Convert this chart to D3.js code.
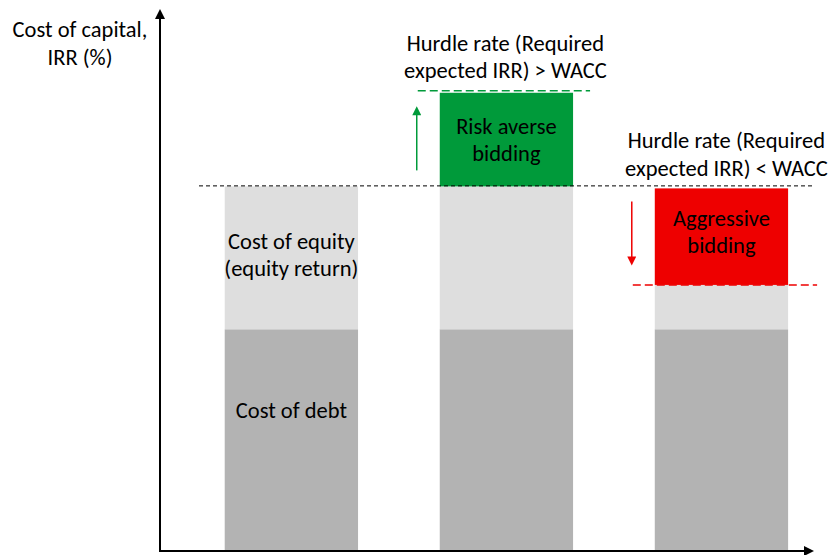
<!DOCTYPE html>
<html>
<head>
<meta charset="utf-8">
<script src="https://cdn.jsdelivr.net/npm/d3@7"></script>
<style>
  body { margin: 0; background: #fff; }
  svg text { font-family: Carlito, Lato, "Liberation Sans", sans-serif; fill: #000; }
</style>
</head>
<body>
<svg class="wacc" width="829" height="555"></svg>
<script>
// conceptual chart: values in %
const categories = ['Base', 'Risk averse', 'Aggressive'];
const costOfDebt = [4.5, 4.5, 4.5];
const wacc = [7.4, 7.4, 7.4];
const hurdleRate = [null, 9.3, 5.4];
const yMax = 11;

const yTitle = ['Cost of capital,', 'IRR (%)'];
const baseLabels = [['Cost of equity', '(equity return)'], ['Cost of debt']];
const hurdleLabels = [null, ['Hurdle rate (Required', 'expected IRR) > WACC'], ['Hurdle rate (Required', 'expected IRR) < WACC']];
const biddingLabels = [null, ['Risk averse', 'bidding'], ['Aggressive', 'bidding']];

const svg = d3.select('svg.wacc');
const width = 829;
const height = 555;
const x0 = 160, x1 = 818, yBottom = 551, yTop = 9;
const fontSize = 22.5;

const green = '#009A3A';
const red = '#EE0000';
const lightGrey = '#DEDEDE';
const darkGrey = '#B3B3B3';

const xScale = d3.scaleBand()
    .domain(categories)
    .range([x0, x1])
    .paddingInner(0.38)
    .paddingOuter(0.22)
    .align(0.684);

const yScale = d3.scaleLinear()
    .domain([0, yMax])
    .range([yBottom, yTop]);

const defs = svg.append('defs');
const marker = (id, color, w, h) => {
    defs.append('marker')
        .attr('id', id)
        .attr('viewBox', '0 0 10 10')
        .attr('refX', 5).attr('refY', 5)
        .attr('markerWidth', w).attr('markerHeight', h)
        .attr('markerUnits', 'userSpaceOnUse')
        .attr('orient', 'auto')
      .append('path')
        .attr('d', 'M0,0 L10,5 L0,10 Z')
        .attr('fill', color);
};
marker('axisHead', '#000', 11, 10);
marker('greenHead', green, 10, 9);
marker('redHead', red, 10, 9);

// build stacked segments from the arrays
const segments = [];
categories.forEach((c, i) => {
    segments.push({ cat: c, lo: 0, hi: costOfDebt[i], fill: darkGrey });
    if (hurdleRate[i] !== null && hurdleRate[i] < wacc[i]) {
        segments.push({ cat: c, lo: costOfDebt[i], hi: hurdleRate[i], fill: lightGrey });
        segments.push({ cat: c, lo: hurdleRate[i], hi: wacc[i], fill: red, inset: 2 });
    } else {
        segments.push({ cat: c, lo: costOfDebt[i], hi: wacc[i], fill: lightGrey });
        if (hurdleRate[i] !== null) {
            segments.push({ cat: c, lo: wacc[i], hi: hurdleRate[i], fill: green });
        }
    }
});

svg.selectAll('rect.seg').data(segments)
    .enter().append('rect')
    .attr('class', 'seg')
    .attr('x', d => xScale(d.cat))
    .attr('y', d => yScale(d.hi) + (d.inset || 0))
    .attr('width', xScale.bandwidth())
    .attr('height', d => yScale(d.lo) - yScale(d.hi) - (d.inset || 0))
    .attr('fill', d => d.fill);

// WACC dashed line
svg.append('line')
    .attr('x1', 199).attr('x2', 813)
    .attr('y1', yScale(wacc[0]) - 0.5).attr('y2', yScale(wacc[0]) - 0.5)
    .attr('stroke', '#000')
    .attr('stroke-width', 1)
    .attr('stroke-dasharray', '4,3');

// hurdle dashed lines + arrows + labels
categories.forEach((c, i) => {
    if (hurdleRate[i] === null) return;
    const up = hurdleRate[i] > wacc[i];
    const color = up ? green : red;
    const bx = xScale(c);
    const cx = bx + xScale.bandwidth() / 2;
    const yh = yScale(hurdleRate[i]);
    const yw = yScale(wacc[i]);

    svg.append('line')
        .attr('x1', bx - 22).attr('x2', bx + xScale.bandwidth() + (up ? 17 : 29))
        .attr('y1', yh - (up ? 2 : 0)).attr('y2', yh - (up ? 2 : 0))
        .attr('stroke', color)
        .attr('stroke-width', 1.5)
        .attr('stroke-dasharray', '8,4');

    svg.append('line')
        .attr('x1', bx - 23).attr('x2', bx - 23)
        .attr('y1', up ? yw - 16 : yw + 15)
        .attr('y2', up ? yh + 18 : yh - 24)
        .attr('stroke', color)
        .attr('stroke-width', 1.5)
        .attr('marker-end', `url(#${up ? 'greenHead' : 'redHead'})`);

    svg.append('text')
        .attr('text-anchor', 'middle')
        .attr('font-size', fontSize)
        .selectAll('tspan').data(hurdleLabels[i])
        .enter().append('tspan')
        .attr('x', up ? cx - 1 : cx + 5)
        .attr('y', (d, k) => (up ? yh - 42 : yw - 38) + k * 27.5)
        .text(d => d);

    const midY = (yh + yw) / 2;
    svg.append('text')
        .attr('text-anchor', 'middle')
        .attr('font-size', fontSize)
        .selectAll('tspan').data(biddingLabels[i])
        .enter().append('tspan')
        .attr('x', cx)
        .attr('y', (d, k) => midY + (up ? -6 : -10) + k * 27)
        .text(d => d);
});

// labels on the first bar
const c0 = xScale(categories[0]) + xScale.bandwidth() / 2;
svg.append('text')
    .attr('text-anchor', 'middle')
    .attr('font-size', fontSize)
    .selectAll('tspan').data(baseLabels[0])
    .enter().append('tspan')
    .attr('x', c0)
    .attr('y', (d, k) => (yScale(wacc[0]) + yScale(costOfDebt[0])) / 2 - 9 + k * 27)
    .text(d => d);
svg.append('text')
    .attr('text-anchor', 'middle')
    .attr('font-size', fontSize)
    .attr('x', c0)
    .attr('y', yScale(costOfDebt[0]) + 89)
    .text(baseLabels[1][0]);

// axes (plain arrows, no ticks)
svg.append('line')
    .attr('x1', x0).attr('x2', x0)
    .attr('y1', yBottom + 1).attr('y2', yTop + 5)
    .attr('stroke', '#000').attr('stroke-width', 2)
    .attr('marker-end', 'url(#axisHead)');
svg.append('line')
    .attr('x1', x0 - 1).attr('x2', 809)
    .attr('y1', yBottom).attr('y2', yBottom)
    .attr('stroke', '#000').attr('stroke-width', 2)
    .attr('marker-end', 'url(#axisHead)');

svg.append('text')
    .attr('text-anchor', 'middle')
    .attr('font-size', fontSize)
    .selectAll('tspan').data(yTitle)
    .enter().append('tspan')
    .attr('x', 80)
    .attr('y', (d, k) => 37 + k * 28)
    .text(d => d);
</script>
</body>
</html>
